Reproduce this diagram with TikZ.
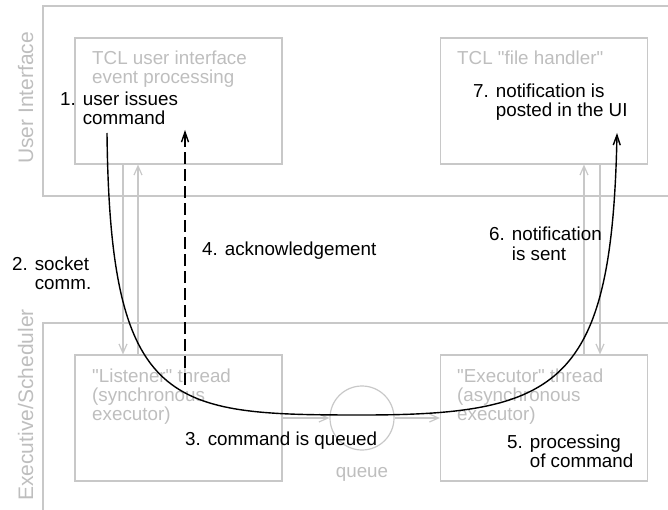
\documentclass[tikz,border=0pt]{standalone}
\usepackage{fontspec}
\setmainfont{Liberation Sans}[Ligatures=TeXOff]
\usetikzlibrary{arrows.meta}
\definecolor{paleline}{RGB}{200,200,200}
\definecolor{paletext}{RGB}{190,190,190}

\begin{document}
\begin{tikzpicture}[
    x=1pt, y=-1pt,
    thread/.style={rectangle, draw=paleline, line width=1.2pt, minimum width=207pt, minimum height=126pt, inner sep=0pt},
    title/.style={anchor=base west, inner sep=0pt, align=left, text=paletext, font=\fontsize{18.8}{19}\selectfont},
    note/.style={anchor=base west, inner sep=0pt, align=left, font=\fontsize{18.8}{19}\selectfont},
    area/.style={anchor=base, inner sep=0pt, rotate=90, text=paletext, font=\fontsize{21}{24}\selectfont},
    link/.style={-{Straight Barb[length=9pt,width=8pt]}, draw=paleline, line width=1.2pt},
    flow/.style={-{Straight Barb[length=10pt,width=7pt]}, line width=1.4pt}
]
    \useasboundingbox (0,0) rectangle (668,510);

    % Layers
    \draw[paleline, line width=1.2pt] (668,6) -- (43,6) -- (43,196) -- (668,196);
    \draw[paleline, line width=1.2pt] (668,323) -- (43,323) -- (43,510);
    \node[area] (uilayer) at (33,98) {User Interface};
    \node[area] (execlayer) at (33,405) {Executive/Scheduler};

    % Threads (text placed by the baseline of its last line)
    \node[thread] (tclui) at (178.5,101) {};
    \node[thread] (handler) at (544,101) {};
    \node[thread] (listener) at (178.5,418) {};
    \node[thread] (executor) at (544,418) {};
    \node[circle, draw=paleline, line width=1.2pt, minimum size=64pt, inner sep=0pt] (queue) at (362,418) {};

    \node[title] (tcluititle) at (92,84) {TCL user interface\\event processing};
    \node[title] (handlertitle) at (457,65) {TCL "file handler"};
    \node[title] (listenertitle) at (92,420) {"Listener" thread\\(synchronous\\executor)};
    \node[title] (executortitle) at (457,420) {"Executor" thread\\(asynchronous\\executor)};
    \node[title, anchor=base] (queuetitle) at (362,477) {queue};

    % Links
    \draw[link] ([xshift=-55.5]tclui.south) -- ([xshift=-55.5]listener.north);
    \draw[link] ([xshift=-40.5]listener.north) -- ([xshift=-40.5]tclui.south);
    \draw[link] ([xshift=40]executor.north) -- ([xshift=40]handler.south);
    \draw[link] ([xshift=56]handler.south) -- ([xshift=56]executor.north);
    \draw[link] (listener) -- (queue);
    \draw[link] (queue) -- (executor);

    % Steps
    \node[note] (issue) at (60,125) {1. user issues\\\hphantom{1. }command};
    \node[note] (socket) at (12,289) {2. socket\\\hphantom{2. }comm.};
    \node[note] (queued) at (185,445) {3. command is queued};
    \node[note] (ack) at (202,255) {4. acknowledgement};
    \node[note] (processing) at (507,467) {5. processing\\\hphantom{5. }of command};
    \node[note] (sent) at (489,260) {6. notification\\\hphantom{6. }is sent};
    \node[note] (posted) at (473,117) {7. notification is\\\hphantom{7. }posted in the UI};

    % Command flow
    \coordinate (issueout) at (107,133);
    \coordinate (postedin) at (617,133);
    \coordinate (ackstart) at (185,385);
    \coordinate (ackend) at (185,130);
    \draw[flow] (issueout) .. controls (110,410) and (170,415) .. (362,415)
        .. controls (560,415) and (612,385) .. (postedin);
    \draw[flow, dash pattern=on 12pt off 5pt] (ackstart) -- (ackend);
\end{tikzpicture}
\end{document}
